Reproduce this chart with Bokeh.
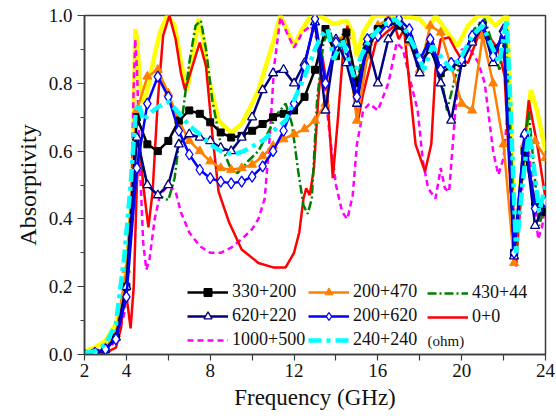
import numpy as np
from bokeh.plotting import figure
from bokeh.models import FixedTicker, Legend, LegendItem, Label, Range1d, PrintfTickFormatter
from bokeh.embed import file_html
from bokeh.resources import INLINE

# ---------------- data ----------------
grid_x = [2.0, 2.5, 3.0, 3.5, 4.0, 4.5, 5.0, 5.5, 6.0, 6.5, 7.0, 7.5, 8.0, 8.5, 9.0, 9.5,
          10.0, 10.5, 11.0, 11.5, 12.0, 12.5, 13.0, 13.5, 14.0, 14.5, 15.0, 15.5, 16.0,
          16.5, 17.0, 17.5, 18.0, 18.5, 19.0, 19.5, 20.0, 20.5, 21.0, 21.5, 22.0, 22.5,
          23.0, 23.5, 24.0]

blk_y = [0.0, 0.005, 0.015, 0.05, 0.2, 0.7, 0.62, 0.6, 0.63, 0.69, 0.72, 0.71, 0.685, 0.655,
         0.64, 0.645, 0.66, 0.68, 0.70, 0.71, 0.72, 0.76, 0.84, 0.96, 0.88, 0.95, 0.8, 0.9,
         0.96, 0.98, 0.97, 0.93, 0.86, 0.9, 0.83, 0.85, 0.86, 0.93, 0.97, 0.9, 0.93, 0.3,
         0.6, 0.45, 0.42]
org_y = [0.0, 0.005, 0.02, 0.06, 0.25, 0.72, 0.82, 0.84, 0.77, 0.69, 0.63, 0.6, 0.57, 0.55,
         0.545, 0.55, 0.56, 0.585, 0.615, 0.635, 0.65, 0.665, 0.69, 0.74, 0.93, 0.94, 0.69,
         0.88, 0.97, 0.99, 0.99, 0.92, 0.84, 0.97, 0.95, 0.85, 0.74, 0.72, 0.94, 0.8, 0.62,
         0.27, 0.62, 0.63, 0.58]
nav_y = [0.0, 0.005, 0.015, 0.05, 0.2, 0.64, 0.5, 0.47, 0.5, 0.62, 0.65, 0.64, 0.63, 0.61,
         0.60, 0.64, 0.70, 0.78, 0.83, 0.84, 0.8, 0.86, 0.98, 0.72, 0.93, 0.86, 0.74, 0.92,
         0.8, 0.93, 0.98, 0.93, 0.83, 0.92, 0.8, 0.69, 0.86, 0.92, 0.97, 0.86, 0.96, 0.29,
         0.65, 0.38, 0.45]
blu_y = [0.0, 0.005, 0.015, 0.045, 0.17, 0.55, 0.74, 0.82, 0.76, 0.66, 0.59, 0.545, 0.52,
         0.51, 0.505, 0.51, 0.525, 0.555, 0.6, 0.66, 0.74, 0.85, 0.99, 0.8, 0.92, 0.9, 0.76,
         0.93, 0.94, 0.98, 0.99, 0.96, 0.87, 0.93, 0.84, 0.86, 0.87, 0.94, 0.97, 0.88, 0.95,
         0.3, 0.65, 0.43, 0.45]

grn_x = [2.0, 3.0, 3.5, 4.0, 4.3, 4.6, 5.0, 5.5, 6.0, 6.3, 6.6, 7.0, 7.3, 7.55, 7.8, 8.1,
         8.5, 9.0, 9.3, 9.8, 10.3, 10.8, 11.2, 11.6, 11.9, 12.2, 12.45, 12.65, 12.85, 13.1,
         13.4, 13.7, 14.0, 14.4, 14.8, 15.0, 15.4, 16.0, 16.6, 17.1, 17.6, 18.0, 18.5, 18.9,
         19.3, 19.7, 20.2, 20.6, 21.1, 21.5, 21.8, 22.1, 22.3, 22.55, 22.9, 23.2, 23.45,
         23.7, 24.0]
grn_y = [0.0, 0.015, 0.05, 0.22, 0.45, 0.6, 0.5, 0.47, 0.455, 0.52, 0.67, 0.86, 0.97, 0.985,
         0.9, 0.75, 0.62, 0.545, 0.535, 0.57, 0.6, 0.66, 0.71, 0.74, 0.68, 0.54, 0.44, 0.415,
         0.46, 0.75, 0.92, 0.96, 0.88, 0.96, 0.84, 0.8, 0.93, 0.96, 0.99, 0.97, 0.91, 0.86,
         0.94, 0.86, 0.72, 0.82, 0.9, 0.96, 0.99, 0.91, 0.84, 0.95, 0.7, 0.3, 0.55, 0.72,
         0.55, 0.38, 0.45]

red_x = [2.0, 3.0, 3.5, 3.75, 3.95, 4.05, 4.2, 4.35, 4.5, 4.62, 4.8, 5.05, 5.25, 5.5, 5.75,
         6.05, 6.35, 6.6, 6.8, 7.1, 7.5, 7.8, 8.1, 8.4, 8.9, 9.5, 10.3, 11.0, 11.6, 12.0,
         12.25, 12.45, 12.58, 12.75, 12.95, 13.15, 13.35, 13.55, 13.85, 14.1, 14.35, 14.55,
         14.8, 15.05, 15.3, 15.9, 16.4, 16.8, 17.0, 17.25, 17.55, 17.8, 18.25, 18.55, 18.75,
         19.0, 19.4, 19.7, 20.0, 20.3, 20.95, 21.4, 21.75, 22.05, 22.3, 22.6, 22.85, 23.2,
         23.6, 24.0]
red_y = [0.0, 0.005, 0.02, 0.08, 0.22, 0.15, 0.077, 0.2, 0.5, 0.64, 0.5, 0.375, 0.48, 0.75,
         0.94, 1.0, 0.93, 0.83, 0.78, 0.84, 0.92, 0.85, 0.65, 0.48, 0.39, 0.31, 0.27, 0.257,
         0.257, 0.3, 0.36, 0.46, 0.49, 0.47, 0.55, 0.75, 0.88, 0.8, 0.52, 0.7, 0.9, 0.97,
         0.8, 0.69, 0.77, 0.92, 0.95, 0.97, 0.93, 0.96, 0.77, 0.62, 0.54, 0.62, 0.84, 0.93,
         0.935, 0.9, 0.87, 0.86, 0.965, 0.93, 0.9, 0.82, 0.52, 0.26, 0.52, 0.75, 0.62, 0.46]

mag_x = [2.0, 3.0, 3.5, 3.9, 4.1, 4.25, 4.35, 4.42, 4.5, 4.65, 4.8, 4.95, 5.1, 5.35, 5.6,
         6.0, 6.35, 6.6, 7.0, 7.5, 8.0, 8.5, 9.0, 9.5, 10.0, 10.3, 10.6, 10.85, 11.05, 11.35,
         11.65, 12.0, 12.4, 12.8, 13.1, 13.4, 13.7, 14.0, 14.3, 14.55, 14.8, 15.0, 15.3,
         15.6, 16.0, 16.5, 16.9, 17.2, 17.5, 17.9, 18.15, 18.4, 18.75, 19.0, 19.2, 19.4,
         19.7, 20.0, 20.4, 20.8, 21.1, 21.5, 21.75, 22.0, 22.2, 22.4, 22.6, 22.9, 23.15,
         23.4, 23.65, 23.85, 24.0]
mag_y = [0.0, 0.01, 0.04, 0.12, 0.25, 0.5, 0.8, 0.93, 0.85, 0.55, 0.33, 0.25, 0.28, 0.4,
         0.47, 0.5, 0.48, 0.42, 0.36, 0.32, 0.3, 0.3, 0.315, 0.34, 0.37, 0.4, 0.46, 0.65,
         0.85, 0.995, 0.95, 0.905, 0.95, 0.97, 0.93, 0.82, 0.65, 0.5, 0.42, 0.40, 0.47,
         0.62, 0.72, 0.74, 0.72, 0.8, 0.92, 0.9, 0.82, 0.72, 0.57, 0.49, 0.46, 0.55, 0.49,
         0.48, 0.72, 0.9, 0.9, 0.86, 0.8, 0.6, 0.53, 0.58, 0.72, 0.5, 0.3, 0.5, 0.63, 0.5,
         0.34, 0.38, 0.45]

cy_x = [2.0, 2.5, 3.0, 3.5, 3.9, 4.2, 4.45, 4.6, 4.8, 5.1, 5.5, 6.0, 6.4, 7.0, 7.5, 8.0,
        8.5, 9.1, 9.6, 10.2, 10.6, 11.2, 11.6, 12.0, 12.5, 13.0, 13.3, 13.6, 13.9, 14.3,
        14.85, 15.2, 15.6, 16.2, 16.8, 17.3, 17.8, 18.2, 18.6, 19.0, 19.5, 20.0, 20.5, 21.0,
        21.5, 21.8, 22.15, 22.35, 22.6, 22.9, 23.2, 23.45, 23.7, 24.0]
cy_y = [0.005, 0.01, 0.03, 0.09, 0.29, 0.5, 0.72, 0.74, 0.69, 0.71, 0.73, 0.745, 0.72, 0.675,
        0.65, 0.62, 0.6, 0.59, 0.6, 0.62, 0.635, 0.67, 0.69, 0.75, 0.82, 0.9, 0.94, 0.96,
        0.87, 0.93, 0.82, 0.88, 0.93, 0.97, 0.99, 0.96, 0.9, 0.84, 0.91, 0.88, 0.84, 0.88,
        0.94, 0.97, 0.9, 0.86, 0.99, 0.7, 0.3, 0.5, 0.66, 0.55, 0.42, 0.5]

yel_x = [2.0, 2.5, 3.0, 3.5, 3.8, 4.0, 4.15, 4.3, 4.38, 4.43, 4.5, 4.65, 4.8, 5.0, 5.3, 5.6,
         5.95, 6.3, 6.6, 6.9, 7.15, 7.45, 7.7, 7.9, 8.4, 9.0, 9.5, 10.0, 10.3, 10.7, 11.0,
         11.35, 11.65, 12.0, 12.3, 12.7, 13.2, 13.9, 14.5, 14.8, 15.0, 15.3, 15.8, 17.0,
         18.0, 18.4, 18.75, 19.2, 19.8, 20.3, 20.8, 21.2, 21.6, 22.15, 22.35, 22.55, 22.8,
         23.3, 23.6, 24.0]
yel_y = [0.01, 0.02, 0.04, 0.09, 0.16, 0.25, 0.36, 0.52, 0.8, 0.96, 0.93, 0.8, 0.74, 0.78,
         0.87, 0.95, 1.0, 0.97, 0.86, 0.78, 0.88, 0.99, 0.92, 0.82, 0.69, 0.655, 0.68, 0.74,
         0.78, 0.86, 0.92, 1.0, 0.96, 0.91, 0.95, 0.99, 1.0, 0.975, 0.985, 0.95, 0.88, 0.95,
         1.0, 1.0, 0.99, 0.96, 1.0, 0.96, 0.91, 0.97, 1.0, 1.0, 0.97, 1.0, 0.7, 0.27, 0.5,
         0.78, 0.72, 0.60]

x_ticks = [2, 4, 6, 8, 10, 12, 14, 16, 18, 20, 22, 24]
x_hidden = [6, 10, 14, 18, 22]
y_ticks = [0.0, 0.2, 0.4, 0.6, 0.8, 1.0]
y_minor = [0.1, 0.3, 0.5, 0.7, 0.9]

labels = ["330+200", "200+470", "430+44", "620+220", "200+620", "0+0", "1000+500", "240+240"]

# ---------------- figure ----------------
FONT = "Liberation Serif"
AX = "#3c3c3c"
TXT = "#111111"

p = figure(width=556, height=418, output_backend="svg", toolbar_location=None,
           x_range=Range1d(2, 24), y_range=Range1d(0, 1),
           min_border_left=84, min_border_right=11, min_border_top=15, min_border_bottom=64)
p.background_fill_color = "white"
p.border_fill_color = "white"
p.xgrid.visible = False
p.ygrid.visible = False
p.outline_line_color = AX
p.outline_line_width = 1.5

p.xaxis.ticker = FixedTicker(ticks=x_ticks, minor_ticks=[])
p.xaxis.major_label_overrides = {t: "" for t in x_hidden}
p.yaxis.ticker = FixedTicker(ticks=y_ticks, minor_ticks=y_minor)
p.yaxis.formatter = PrintfTickFormatter(format="%.1f")

for ax in (p.xaxis[0], p.yaxis[0]):
    ax.axis_line_color = AX
    ax.axis_line_width = 1.5
    ax.major_tick_line_color = AX
    ax.minor_tick_line_color = AX
    ax.major_tick_line_width = 1.2
    ax.minor_tick_line_width = 1.2
    ax.major_tick_in = 0
    ax.minor_tick_in = 0
    ax.major_label_text_font = FONT
    ax.major_label_text_font_style = "normal"
    ax.major_label_text_font_size = "19px"
    ax.major_label_text_color = TXT
    ax.axis_label_text_font = FONT
    ax.axis_label_text_font_style = "normal"
    ax.axis_label_text_color = TXT

p.xaxis.axis_label_text_font_size = "23px"
p.yaxis.axis_label_text_font_size = "24px"
p.xaxis.major_tick_out = 6
p.yaxis.major_tick_out = 7
p.yaxis.minor_tick_out = 4
p.xaxis.major_label_standoff = 3
p.yaxis.major_label_standoff = 5
p.xaxis.axis_label = "Frequency (GHz)"
p.yaxis.axis_label = "Absorptivity"
p.xaxis.axis_label_standoff = 5
p.yaxis.axis_label_standoff = 5

# back to front
p.line(yel_x, yel_y, line_color="#FFFF00", line_width=4.5)
r_mag = p.line(mag_x, mag_y, line_color="#FF00FF", line_width=2.5, line_dash="6 4")
r_red = p.line(red_x, red_y, line_color="#FF0000", line_width=2.5)
r_grn = p.line(grn_x, grn_y, line_color="#008000", line_width=2.5, line_dash="9 3 2 3")
r_org_l = p.line(grid_x, org_y, line_color="#FF8000", line_width=2.5)
r_org_m = p.scatter(grid_x, org_y, marker="triangle", size=9, fill_color="#FF8000",
                    line_color="#FF8000")
r_blk_l = p.line(grid_x, blk_y, line_color="#000000", line_width=2.5)
r_blk_m = p.scatter(grid_x, blk_y, marker="square", size=7, fill_color="#000000",
                    line_color="#000000")
r_nav_l = p.line(grid_x, nav_y, line_color="#000080", line_width=2.5)
r_nav_m = p.scatter(grid_x, nav_y, marker="triangle", size=9, fill_color="white",
                    line_color="#000080", line_width=1.3)
r_blu_l = p.line(grid_x, blu_y, line_color="#0000FF", line_width=2.5)
r_blu_m = p.scatter(grid_x, blu_y, marker="diamond", size=11, fill_color="white",
                    line_color="#0000FF", line_width=1.3)
r_cy = p.line(cy_x, cy_y, line_color="#00FFFF", line_width=4.5, line_dash="13 5 4 5")

columns = [
    ([(labels[0], [r_blk_l, r_blk_m]), (labels[3], [r_nav_l, r_nav_m]), (labels[6], [r_mag])], 103, 4),
    ([(labels[1], [r_org_l, r_org_m]), (labels[4], [r_blu_l, r_blu_m]), (labels[7], [r_cy])], 224, 4),
    ([(labels[2], [r_grn]), (labels[5], [r_red])], 343, 27),
]
for entries, lx, ly in columns:
    leg = Legend(items=[LegendItem(label=t, renderers=rs) for t, rs in entries],
                 orientation="vertical", location=(lx, ly),
                 glyph_width=41, glyph_height=20, label_height=20, label_standoff=4,
                 spacing=3, padding=0, margin=0,
                 label_text_font=FONT, label_text_font_style="normal",
                 label_text_font_size="18px",
                 label_text_color=TXT,
                 border_line_alpha=0, background_fill_alpha=0)
    p.add_layout(leg, "center")

p.add_layout(Label(x=18.37, y=0.041, text="(ohm)", text_font=FONT, text_font_size="15px",
                   text_baseline="middle", text_align="left", text_color=TXT))

open("out.html", "w").write(file_html(p, INLINE))
